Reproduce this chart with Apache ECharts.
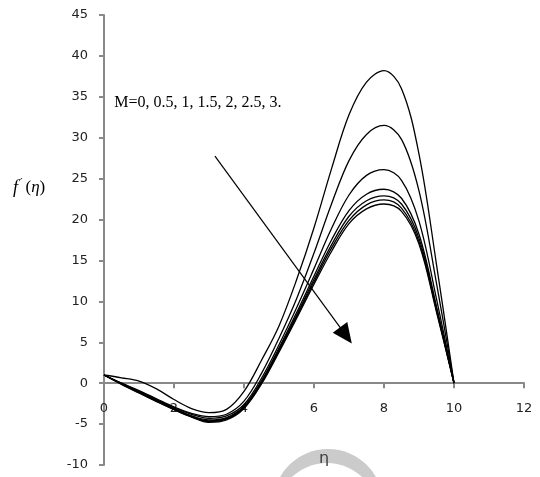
<!DOCTYPE html>
<html><head><meta charset="utf-8">
<script src="https://cdn.jsdelivr.net/npm/echarts@6/dist/echarts.min.js"></script>
<style>html,body{margin:0;padding:0;background:#fff}#c{width:540px;height:477px}</style>
</head><body><div id="c"></div>
<script>
const eta = [0,0.5,1,1.5,2,2.5,3,3.5,4,4.5,5,5.5,6,6.5,7,7.5,8,8.5,9,9.5,10];
const M0  = [1,0.65,0.25,-0.7,-2.0,-3.1,-3.6,-3.2,-1.0,2.8,7.0,12.6,19.0,26.2,32.8,36.8,38.2,36.0,28.0,14.5,0];
const M05 = [1,0.0,-0.9,-1.9,-2.9,-3.7,-4.1,-3.8,-2.2,1.2,5.5,10.3,15.9,21.9,27.2,30.4,31.5,29.8,23.5,12.2,0];
const M1  = [1,0.0,-1.0,-2.0,-3.0,-3.8,-4.3,-4.0,-2.6,0.6,4.7,9.2,14.0,18.9,23.0,25.4,26.1,24.8,19.8,10.3,0];
const M15 = [1,-0.05,-1.05,-2.1,-3.1,-4.0,-4.5,-4.2,-2.8,0.3,4.3,8.6,13.1,17.5,21.1,23.1,23.7,22.6,18.2,9.4,0];
const M2  = [1,-0.1,-1.1,-2.15,-3.15,-4.05,-4.6,-4.3,-2.9,0.15,4.1,8.3,12.7,16.9,20.4,22.3,22.9,21.9,17.7,9.1,0];
const M25 = [1,-0.1,-1.15,-2.2,-3.2,-4.1,-4.7,-4.4,-3.0,0.0,3.95,8.1,12.4,16.5,19.9,21.8,22.4,21.4,17.3,8.9,0];
const M3  = [1,-0.15,-1.2,-2.25,-3.25,-4.15,-4.8,-4.5,-3.1,-0.1,3.8,7.9,12.1,16.1,19.5,21.3,21.9,21.0,17.0,8.7,0];
const curves = [M0,M05,M1,M15,M2,M25,M3];
const curveNames = ['M=0','M=0.5','M=1','M=1.5','M=2','M=2.5','M=3'];
const annotationText = 'M=0, 0.5, 1, 1.5, 2, 2.5, 3.';
const arrowFrom = [3.17, 27.75];
const arrowTo = [7.08, 4.85];
const textAt = [0.29, 34.3];

const chart = echarts.init(document.getElementById('c'), null, {renderer:'canvas'});
const axisGrey = '#898989';
const series = curves.map((vals, i) => ({
  name: curveNames[i], type: 'line', smooth: 0.35, showSymbol: false, silent: true,
  data: eta.map((x, j) => [x, vals[j]]),
  lineStyle: {color: '#000', width: 1.3}, z: 3
}));
const gridTop = 15, gridBottom = 12, H = 477;
chart.setOption({
  animation: false,
  backgroundColor: '#fff',
  grid: {left: 104, right: 16, top: gridTop, bottom: gridBottom, containLabel: false, outerBoundsMode: 'none'},
  xAxis: {
    type: 'value', min: 0, max: 12, interval: 2, position: 'bottom',
    axisLine: {onZero: false, lineStyle: {color: axisGrey, width: 2}},
    axisTick: {show: true, inside: false, length: 5, lineStyle: {color: axisGrey, width: 2}},
    axisLabel: {margin: 19, color: '#222', fontFamily: 'DejaVu Sans', fontSize: 13},
    splitLine: {show: false}
  },
  yAxis: {
    type: 'value', min: -10, max: 45, interval: 5,
    axisLine: {show: true, onZero: false, lineStyle: {color: axisGrey, width: 2}},
    axisTick: {show: true, length: 5, lineStyle: {color: axisGrey, width: 2}},
    axisLabel: {margin: 16, color: '#222', fontFamily: 'DejaVu Sans', fontSize: 13},
    splitLine: {show: false}
  },
  series: series
});
// place the x axis on the y=0 line
const zeroPx = chart.convertToPixel({gridIndex: 0}, [0, 0]);
chart.setOption({xAxis: {offset: -((H - gridBottom) - zeroPx[1])}});

const tp = chart.convertToPixel({gridIndex: 0}, textAt);
const a0 = chart.convertToPixel({gridIndex: 0}, arrowFrom);
const a1 = chart.convertToPixel({gridIndex: 0}, arrowTo);
const dx = a1[0] - a0[0], dy = a1[1] - a0[1];
const L = Math.hypot(dx, dy), ux = dx / L, uy = dy / L;
const headLen = 20, headW = 9;
const bx = a1[0] - ux * headLen, by = a1[1] - uy * headLen;
chart.setOption({
  graphic: [
    {type: 'circle', shape: {cx: 328, cy: 504, r: 55}, style: {fill: '#cbcbcb'}, z: 0, silent: true},
    {type: 'circle', shape: {cx: 327, cy: 514, r: 51}, style: {fill: '#ffffff'}, z: 1, silent: true},
    {type: 'text', x: 319, y: 451, style: {text: 'η', fill: '#404040', font: '16px "DejaVu Sans"'}, z: 10},
    {type: 'text', x: 13, y: 188, style: {
      text: '{f|f}{p|′}{b|(}{e|η}{b|)}', verticalAlign: 'middle',
      rich: {f: {fontFamily: 'Liberation Serif', fontStyle: 'italic', fontSize: 18, fill: '#000'},
             p: {fontFamily: 'DejaVu Serif', fontSize: 11, fill: '#000', padding: [0,3,9,2]},
             b: {fontFamily: 'Liberation Serif', fontSize: 17, fill: '#000'},
             e: {fontFamily: 'Liberation Serif', fontStyle: 'italic', fontSize: 17, fill: '#000'}}
    }, z: 10},
    {type: 'text', x: tp[0], y: tp[1], style: {text: annotationText, fill: '#000', font: '16px "Liberation Serif"', verticalAlign: 'middle'}, z: 10},
    {type: 'line', shape: {x1: a0[0], y1: a0[1], x2: bx + ux * 2, y2: by + uy * 2}, style: {stroke: '#000', lineWidth: 1.2}, z: 10},
    {type: 'polygon', shape: {points: [[a1[0], a1[1]], [bx - uy * headW, by + ux * headW], [bx + uy * headW, by - ux * headW]]}, style: {fill: '#000'}, z: 10}
  ]
});
</script></body></html>
